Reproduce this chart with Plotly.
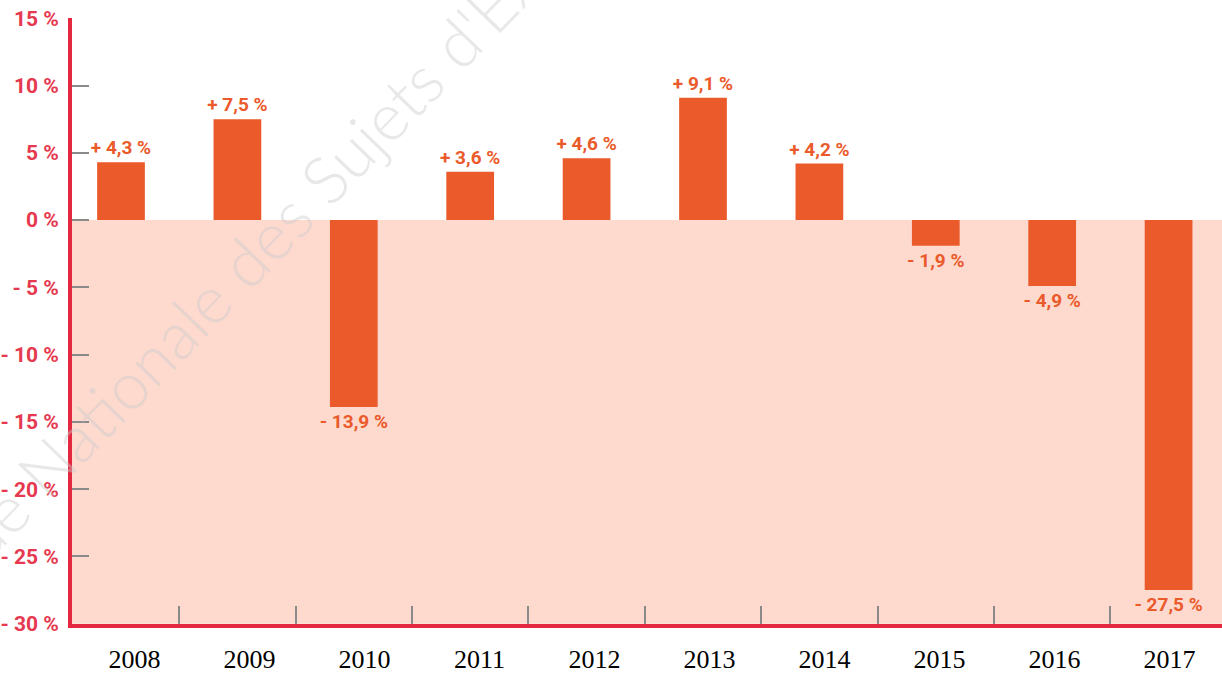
import plotly.graph_objects as go

years = ["2008", "2009", "2010", "2011", "2012", "2013", "2014", "2015", "2016", "2017"]
changes = [4.3, 7.5, -13.9, 3.6, 4.6, 9.1, 4.2, -1.9, -4.9, -27.5]
y_tickvals = [15, 10, 5, 0, -5, -10, -15, -20, -25, -30]
y_ticktext = ["15 %", "10 %", "5 %", "0 %", "- 5 %", "- 10 %", "- 15 %", "- 20 %", "- 25 %", "- 30 %"]
watermark = "Banque Nationale des Sujets d'Examens"

def fmt(v):
    sign = "+" if v > 0 else "-"
    return f"{sign} {abs(v):.1f}".replace(".", ",") + " %"

labels = [fmt(v) for v in changes]

BAR = "#ea5a2b"
RED = "#e3283f"
LABEL_RED = "#e6394f"
PINK = "#fdd9ce"
GRAY = "#8a8a8a"
NARROW = "Roboto, Liberation Sans, sans-serif"

fig = go.Figure()
fig.add_trace(go.Bar(
    x=years, y=changes, marker_color=BAR, marker_line_width=0,
    text=labels, textposition="outside", cliponaxis=False,
    constraintext="none",
    textfont=dict(family=NARROW, size=19, color=BAR, weight="bold"),
    hoverinfo="skip", showlegend=False,
))
# invisible trace carrying the year labels axis
fig.add_trace(go.Scatter(x=years, y=[0]*len(years), xaxis="x2", mode="markers",
                         marker=dict(opacity=0), hoverinfo="skip", showlegend=False))

fig.add_shape(type="rect", xref="paper", yref="y", x0=0, x1=1, y0=-30, y1=0,
              fillcolor=PINK, line_width=0, layer="below")

fig.update_layout(
    width=1222, height=673,
    margin=dict(l=72, r=0, t=18, b=49),
    paper_bgcolor="white", plot_bgcolor="white",
    bargap=0.59,
    xaxis=dict(type="category", range=[-0.421, 9.459], showticklabels=False, automargin=False,
               showline=True, linecolor=RED, linewidth=4, showgrid=False, zeroline=False,
               ticks="inside", ticklen=18, tickwidth=2, tickcolor=GRAY, tickson="boundaries"),
    xaxis2=dict(type="category", overlaying="x", side="bottom", range=[-0.544, 9.456],
                showline=False, showgrid=False, zeroline=False, ticks="", automargin=False,
                tickfont=dict(family="Liberation Serif, Times New Roman, serif", size=26, color="black"),
                ticklabelstandoff=17),
    yaxis=dict(range=[-30.02, 15.02], tickvals=y_tickvals, ticktext=y_ticktext, automargin=False,
               showline=True, linecolor=RED, linewidth=4, showgrid=False, zeroline=False,
               ticks="inside", ticklen=17, tickwidth=2, tickcolor=GRAY,
               tickfont=dict(family=NARROW, size=21, color=LABEL_RED, weight="bold"),
               ticklabelstandoff=5),
)

fig.add_annotation(text=watermark, xref="paper", yref="paper", x=0.163, y=0.625,
                   xanchor="center", yanchor="middle",
                   showarrow=False, textangle=-46,
                   font=dict(family="Lato, Open Sans, sans-serif", size=66,
                             color="rgba(205,205,205,0.45)", weight=300))

fig.write_html("out.html", config={"displayModeBar": False},
               post_script="document.body.style.margin='0px';")
